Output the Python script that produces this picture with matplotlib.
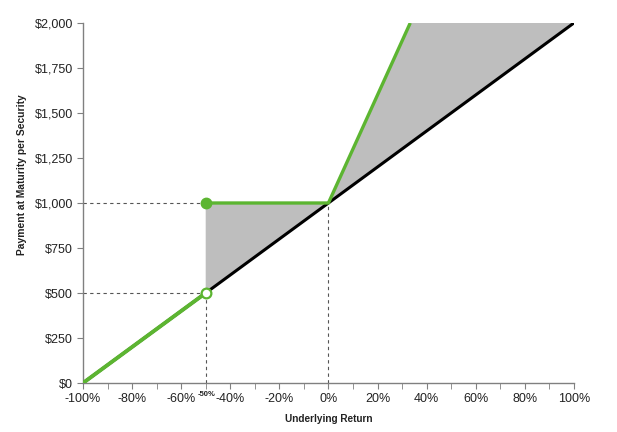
import matplotlib
matplotlib.use("Agg")
import matplotlib.pyplot as plt
from matplotlib.ticker import FuncFormatter, MultipleLocator

# Data
underlying_ret = [-100, -50, 0, 100]
underlying_pay = [0, 500, 1000, 2000]
lower_ret = [-100, -50]
lower_pay = [0, 500]
upper_ret = [-50, 0, 33.33]
upper_pay = [1000, 1000, 2000]
cap_ret = [33.33, 100]
cap_pay = [2000, 2000]
x_ticks = [-100, -80, -60, -40, -20, 0, 20, 40, 60, 80, 100]
y_ticks = [0, 250, 500, 750, 1000, 1250, 1500, 1750, 2000]
barrier = -50
par = 1000

GREEN = "#5cb531"
GRAY_FILL = "#bebebe"
DASH = "#555555"
SPINE = "#808080"

plt.rcParams['font.family'] = ['Liberation Sans', 'DejaVu Sans']

fig = plt.figure(figsize=(6.17, 4.32), dpi=100)
ax = fig.add_axes([0.1345, 0.1134, 0.7956, 0.8334])

# gray fill region between enhanced payoff and underlying
poly_x = upper_ret + cap_ret[1:] + [underlying_ret[-1], underlying_ret[1]]
poly_y = upper_pay + cap_pay[1:] + [underlying_pay[-1], underlying_pay[1]]
ax.fill(poly_x, poly_y, color=GRAY_FILL, lw=0, zorder=1)

# dashed guides
dash_kw = dict(color=DASH, lw=0.8, ls=(0, (3, 3)), zorder=2)
ax.plot([underlying_ret[0], barrier], [par, par], **dash_kw)
ax.plot([underlying_ret[0], barrier], [lower_pay[-1], lower_pay[-1]], **dash_kw)
ax.plot([barrier, barrier], [0, lower_pay[-1]], **dash_kw)
ax.plot([0, 0], [0, par], **dash_kw)

# underlying line
ax.plot(underlying_ret, underlying_pay, color="black", lw=2.2, zorder=3,
        solid_capstyle='butt')

# enhanced payoff lines
ax.plot(lower_ret, lower_pay, color=GREEN, lw=2.8, zorder=4, solid_capstyle='butt')
ax.plot(upper_ret, upper_pay, color=GREEN, lw=2.4, zorder=4, solid_capstyle='butt')

# markers
ax.plot([barrier], [par], marker='o', ms=7.5, color=GREEN, zorder=5, clip_on=False)
ax.plot([barrier], [lower_pay[-1]], marker='o', ms=7, mfc='white', mec=GREEN,
        mew=1.6, zorder=5, clip_on=False)

ax.set_xlim(-100, 100)
ax.set_ylim(0, 2000)
ax.set_xticks(x_ticks)
ax.xaxis.set_minor_locator(MultipleLocator(10))
ax.set_yticks(y_ticks)
ax.xaxis.set_major_formatter(FuncFormatter(lambda v, p: f"{int(v)}%"))
ax.yaxis.set_major_formatter(FuncFormatter(lambda v, p: f"${int(v):,}"))

for s in ['top', 'right']:
    ax.spines[s].set_visible(False)
for s in ['left', 'bottom']:
    ax.spines[s].set_color(SPINE)
    ax.spines[s].set_linewidth(1.0)

ax.tick_params(axis='both', which='both', direction='out', color=SPINE,
               labelsize=9, labelcolor='#222222')
ax.tick_params(axis='x', which='major', length=4, pad=3)
ax.tick_params(axis='x', which='minor', length=4)
ax.tick_params(axis='y', which='major', length=4, pad=3)

lab_font = ['Liberation Sans Narrow', 'Liberation Sans', 'DejaVu Sans']
ax.set_xlabel("Underlying Return", fontsize=7.2, fontweight='bold',
              family=lab_font, color='#222222')
ax.set_ylabel("Payment at Maturity per Security", fontsize=7.4, fontweight='bold',
              family=lab_font, color='#222222')
ax.xaxis.set_label_coords(0.5, -0.085)
ax.yaxis.set_label_coords(-0.114, 0.578)

ax.annotate(f"{barrier}%", xy=(barrier, 0), xycoords='data',
            xytext=(1, -8.5), textcoords='offset points',
            ha='center', va='center', fontsize=5.5, fontweight='bold',
            family=lab_font, color='#222222', annotation_clip=False)

fig.savefig("out.png", dpi=100, facecolor='white')
